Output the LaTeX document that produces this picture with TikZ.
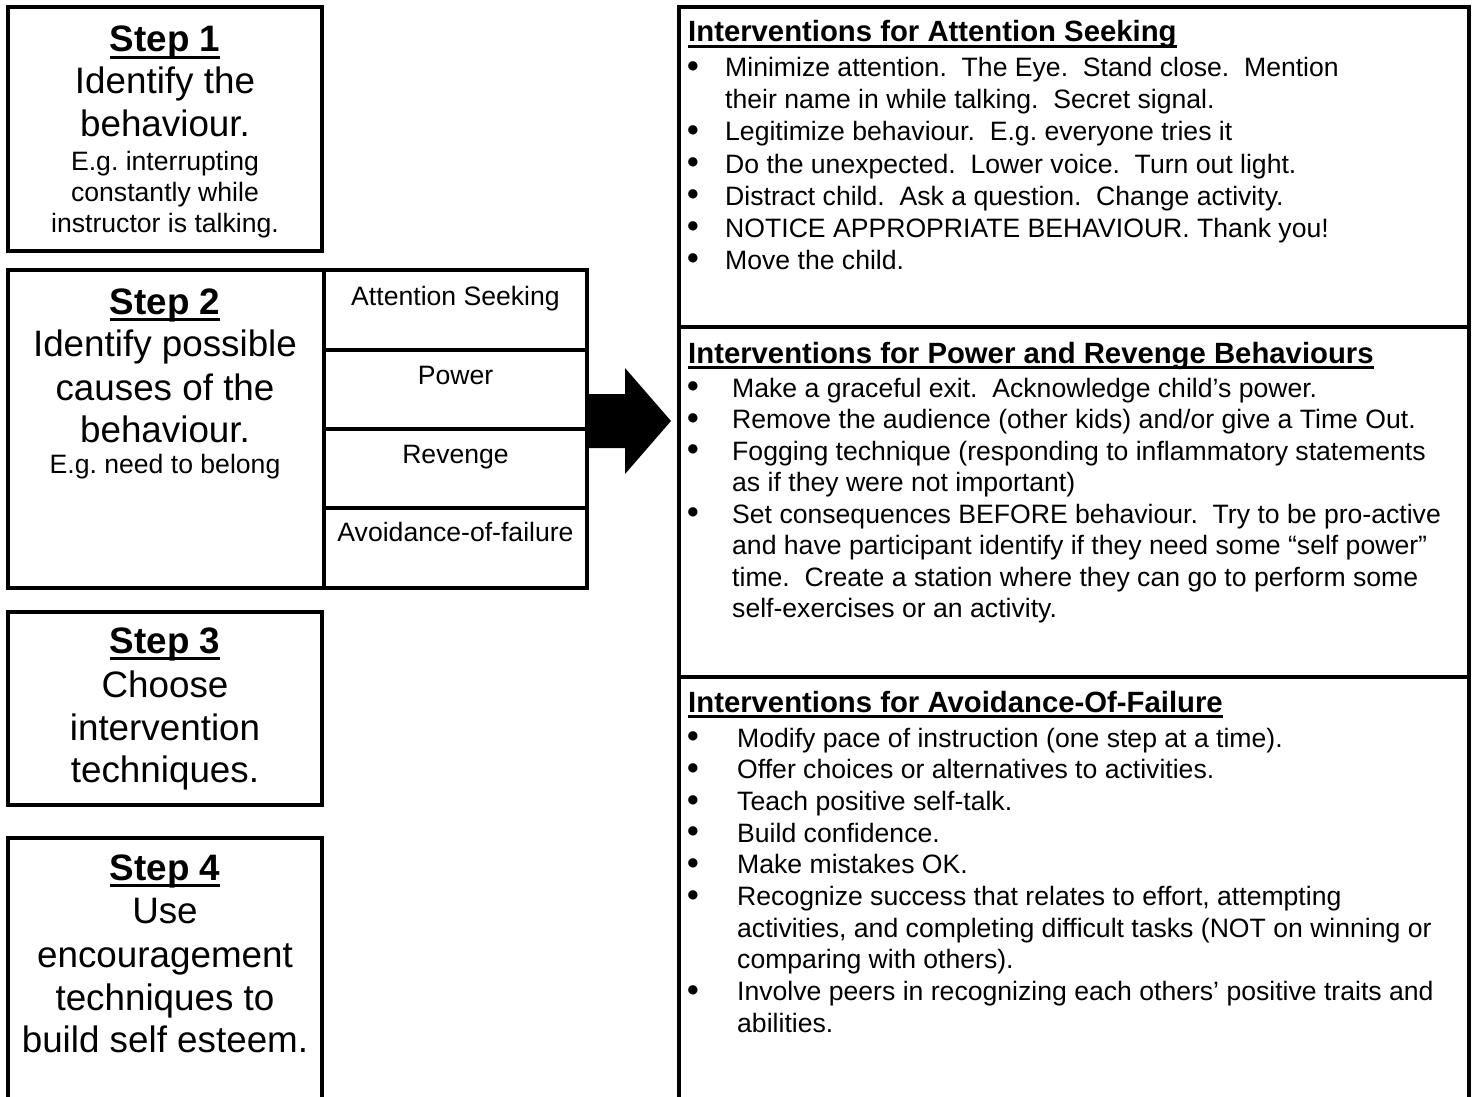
\documentclass[tikz,border=0pt]{standalone}
\usepackage{fontspec}
\setmainfont{Liberation Sans}
\newfontfamily\dejavu{DejaVu Sans}
\frenchspacing
\newcommand\ulx[1]{\setbox0\hbox{#1}\rlap{\vrule height -0.1em depth 0.2em width \wd0}\box0}
\tikzset{
  bx/.style={line width=3.5pt, line cap=rect},
  big/.style={inner sep=0pt, anchor=base, font=\fontsize{36.8}{40}\selectfont},
  bigb/.style={inner sep=0pt, anchor=base, font=\fontsize{36.8}{40}\selectfont\bfseries},
  sm/.style={inner sep=0pt, anchor=base, font=\fontsize{26.6}{31}\selectfont},
  hd/.style={inner sep=0pt, anchor=base west, font=\fontsize{29.3}{33}\selectfont\bfseries},
  tx/.style={inner sep=0pt, anchor=base west, font=\fontsize{26.6}{31}\selectfont},
  bul/.style={inner sep=0pt, anchor=center, font=\dejavu\fontsize{12.2}{14}\selectfont},
}
\begin{document}
\begin{tikzpicture}[x=1pt,y=-1pt]
\useasboundingbox (0,0) rectangle (1475,1097);
\fill[white] (0,0) rectangle (1475,1097);

% ---- Step 1 ----
\draw[bx] (8,7) rectangle (322,251);
\node[bigb] (s1t) at (165,52) {\ulx{Step 1}};
\node[big] (s1a) at (165,94) {Identify the};
\node[big] (s1b) at (165,136) {behaviour.};
\node[sm] (s1c) at (165,170) {E.g. interrupting};
\node[sm] (s1d) at (165,201) {constantly while};
\node[sm] (s1e) at (165,232) {instructor is talking.};

% ---- Step 2 ----
\draw[bx] (8,270) rectangle (587,588);
\draw[bx] (324,270) -- (324,588);
\draw[bx] (324,350) -- (587,350);
\draw[bx] (324,429) -- (587,429);
\draw[bx] (324,508) -- (587,508);
\node[bigb] (s2t) at (165,314) {\ulx{Step 2}};
\node[big] (s2a) at (165,356) {Identify possible};
\node[big] (s2b) at (165,400) {causes of the};
\node[big] (s2c) at (165,442) {behaviour.};
\node[sm] (s2d) at (165,473) {E.g. need to belong};
\node[sm] (c1) at (455.5,305) {Attention Seeking};
\node[sm] (c2) at (455.5,384) {Power};
\node[sm] (c3) at (455.5,463) {Revenge};
\node[sm] (c4) at (455.5,541) {Avoidance-of-failure};

% ---- Step 3 ----
\draw[bx] (8,612) rectangle (322,805);
\node[bigb] (s3t) at (165,653) {\ulx{Step 3}};
\node[big] (s3a) at (165,697) {Choose};
\node[big] (s3b) at (165,740) {intervention};
\node[big] (s3c) at (165,782) {techniques.};

% ---- Step 4 ----
\draw[bx] (8,1105) -- (8,838) -- (322,838) -- (322,1105);
\node[bigb] (s4t) at (165,880) {\ulx{Step 4}};
\node[big] (s4a) at (165,923) {Use};
\node[big] (s4b) at (165,967) {encouragement};
\node[big] (s4c) at (165,1010) {techniques to};
\node[big] (s4d) at (165,1052) {build self esteem.};

% ---- arrow ----
\fill (586,394) -- (625,394) -- (625,368) -- (671,421) -- (625,474) -- (625,448) -- (586,448) -- cycle;

% ---- right panel ----
\draw[bx] (679,1105) -- (679,7) -- (1469,7) -- (1469,1105);
\draw[bx] (679,327) -- (1469,327);
\draw[bx] (679,677) -- (1469,677);

% section 1
\node[hd] (h1) at (688,42) {\ulx{Interventions for Attention Seeking}};
\node[bul] (b11) at (693,66.5) {●};
\node[tx] (t11) at (725,77) {Minimize attention.\ \ The Eye.\ \ Stand close.\ \ Mention};
\node[tx] (t12) at (725,109) {their name in while talking.\ \ Secret signal.};
\node[bul] (b12) at (693,130.5) {●};
\node[tx] (t13) at (725,141) {Legitimize behaviour.\ \ E.g. everyone tries it};
\node[bul] (b13) at (693,162.5) {●};
\node[tx] (t14) at (725,173) {Do the unexpected.\ \ Lower voice.\ \ Turn out light.};
\node[bul] (b14) at (693,194.5) {●};
\node[tx] (t15) at (725,205) {Distract child.\ \ Ask a question.\ \ Change activity.};
\node[bul] (b15) at (693,226.5) {●};
\node[tx] (t16) at (725,237) {NOTICE APPROPRIATE BEHAVIOUR. Thank you!};
\node[bul] (b16) at (693,258.5) {●};
\node[tx] (t17) at (725,269) {Move the child.};

% section 2
\node[hd] (h2) at (688,363) {\ulx{Interventions for Power and Revenge Behaviours}};
\node[bul] (b21) at (693,386.5) {●};
\node[tx] (t21) at (732,397) {Make a graceful exit.\ \ Acknowledge child’s power.};
\node[bul] (b22) at (693,418) {●};
\node[tx] (t22) at (732,428.5) {Remove the audience (other kids) and/or give a Time Out.};
\node[bul] (b23) at (693,449.5) {●};
\node[tx] (t23) at (732,460) {Fogging technique (responding to inflammatory statements};
\node[tx] (t24) at (732,491.5) {as if they were not important)};
\node[bul] (b24) at (693,512.5) {●};
\node[tx] (t25) at (732,523) {Set consequences BEFORE behaviour.\ \ Try to be pro-active};
\node[tx] (t26) at (732,554.5) {and have participant identify if they need some “self power”};
\node[tx] (t27) at (732,586) {time.\ \ Create a station where they can go to perform some};
\node[tx] (t28) at (732,617.5) {self-exercises or an activity.};

% section 3
\node[hd] (h3) at (688,712) {\ulx{Interventions for Avoidance-Of-Failure}};
\node[bul] (b31) at (693,736.5) {●};
\node[tx] (t31) at (737,747) {Modify pace of instruction (one step at a time).};
\node[bul] (b32) at (693,768.2) {●};
\node[tx] (t32) at (737,778.7) {Offer choices or alternatives to activities.};
\node[bul] (b33) at (693,799.9) {●};
\node[tx] (t33) at (737,810.4) {Teach positive self-talk.};
\node[bul] (b34) at (693,831.6) {●};
\node[tx] (t34) at (737,842.1) {Build confidence.};
\node[bul] (b35) at (693,863.3) {●};
\node[tx] (t35) at (737,873.8) {Make mistakes OK.};
\node[bul] (b36) at (693,895) {●};
\node[tx] (t36) at (737,905.5) {Recognize success that relates to effort, attempting};
\node[tx] (t37) at (737,937.2) {activities, and completing difficult tasks (NOT on winning or};
\node[tx] (t38) at (737,968.9) {comparing with others).};
\node[bul] (b37) at (693,990.1) {●};
\node[tx] (t39) at (737,1000.6) {Involve peers in recognizing each others’ positive traits and};
\node[tx] (t310) at (737,1032.3) {abilities.};
\end{tikzpicture}
\end{document}
